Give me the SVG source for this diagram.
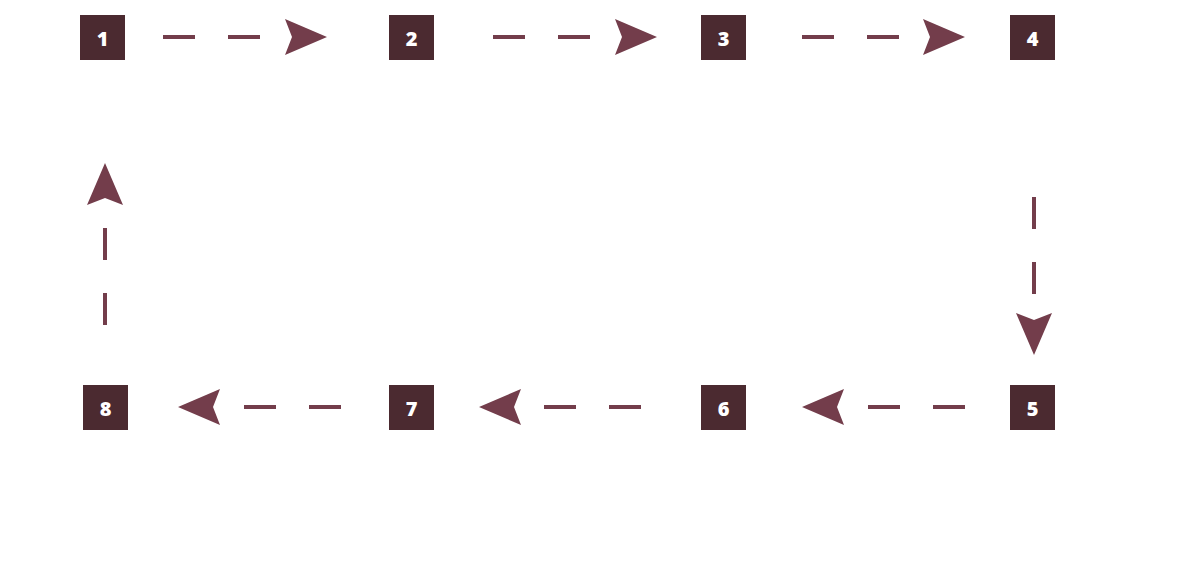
<svg xmlns="http://www.w3.org/2000/svg" width="1200" height="571" viewBox="0 0 1200 571">
<defs>
<style>
.box{fill:#4b2a30}
.lbl{fill:#ffffff;font-family:"Open Sans","DejaVu Sans",sans-serif;font-weight:800;font-size:20px;text-anchor:middle;dominant-baseline:central}
.dash{stroke:#733d4b;stroke-width:4;fill:none}
.head{fill:#733d4b}
</style>
<polygon id="hr" points="0,-18 42,0 0,18 7,0"/>
</defs>
<rect width="1200" height="571" fill="#ffffff"/>
<g id="connectors">
<g id="c12"><path class="dash" d="M163,37H195M228,37H260"/><use href="#hr" class="head" x="285" y="37"/></g>
<g id="c23"><path class="dash" d="M493,37H525M558,37H590"/><use href="#hr" class="head" x="615" y="37"/></g>
<g id="c34"><path class="dash" d="M802,37H834M867,37H899"/><use href="#hr" class="head" x="923" y="37"/></g>
<g id="c45"><path class="dash" d="M1034,197V229M1034,262V294"/><use href="#hr" class="head" transform="translate(1034,313) rotate(90)"/></g>
<g id="c56"><path class="dash" d="M868,407H900M933,407H965"/><use href="#hr" class="head" transform="translate(844,407) rotate(180)"/></g>
<g id="c67"><path class="dash" d="M544,407H576M609,407H641"/><use href="#hr" class="head" transform="translate(521,407) rotate(180)"/></g>
<g id="c78"><path class="dash" d="M244,407H276M309,407H341"/><use href="#hr" class="head" transform="translate(220,407) rotate(180)"/></g>
<g id="c81"><path class="dash" d="M105,293V325M105,228V260"/><use href="#hr" class="head" transform="translate(105,205) rotate(-90)"/></g>
</g>
<g id="n1"><rect class="box" x="80" y="15" width="45" height="45"/><text class="lbl" x="102.5" y="38">1</text></g>
<g id="n2"><rect class="box" x="389" y="15" width="45" height="45"/><text class="lbl" x="411.5" y="38">2</text></g>
<g id="n3"><rect class="box" x="701" y="15" width="45" height="45"/><text class="lbl" x="723.5" y="38">3</text></g>
<g id="n4"><rect class="box" x="1010" y="15" width="45" height="45"/><text class="lbl" x="1032.5" y="38">4</text></g>
<g id="n5"><rect class="box" x="1010" y="385" width="45" height="45"/><text class="lbl" x="1032.5" y="408">5</text></g>
<g id="n6"><rect class="box" x="701" y="385" width="45" height="45"/><text class="lbl" x="723.5" y="408">6</text></g>
<g id="n7"><rect class="box" x="389" y="385" width="45" height="45"/><text class="lbl" x="411.5" y="408">7</text></g>
<g id="n8"><rect class="box" x="83" y="385" width="45" height="45"/><text class="lbl" x="105.5" y="408">8</text></g>
</svg>
